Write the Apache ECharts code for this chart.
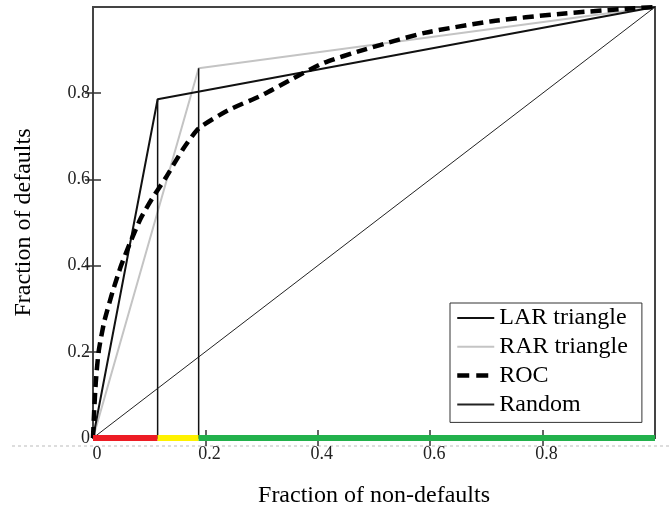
<!DOCTYPE html>
<html>
<head>
<meta charset="utf-8">
<title>LAR / RAR / ROC</title>
<script src="https://cdn.jsdelivr.net/npm/echarts@6/dist/echarts.min.js"></script>
<style>
  html, body { margin: 0; padding: 0; background: #fff; }
  #chart { width: 670px; height: 513px; }
</style>
</head>
<body>
<div id="chart"></div>
<script>
// points
const larTriangle = [[0, 0], [0.115, 0.786], [1, 1]]
const rarTriangle = [[0, 0], [0.188, 0.858], [1, 1]]
const rocCurve = [
    [0, 0], [0.002, 0.06], [0.005, 0.13], [0.01, 0.2], [0.02, 0.27], [0.035, 0.34],
    [0.05, 0.4], [0.065, 0.45], [0.085, 0.51], [0.105, 0.555], [0.13, 0.605],
    [0.16, 0.67], [0.188, 0.718], [0.24, 0.76], [0.3, 0.795], [0.35, 0.83],
    [0.41, 0.87], [0.48, 0.9], [0.59, 0.94], [0.71, 0.967], [0.83, 0.984],
    [0.95, 0.996], [1, 1]
]
const randomLine = [[0, 0], [1, 1]]
const cutoffs = [0.115, 0.188]
const cutoffTops = [0.786, 0.858]
const zoneBounds = [0, 0.115, 0.188, 1]
const tickValues = [0, 0.2, 0.4, 0.6, 0.8]
const innerTicks = [0.2, 0.4, 0.6, 0.8]

const zoneColors = ['#ed1c24', '#fff200', '#22b14c']
const FONT = "'Liberation Serif', 'Times New Roman', serif"

const chart = echarts.init(document.getElementById('chart'))

const tickStyle = { show: true, inside: true, length: 8, customValues: innerTicks, lineStyle: { color: '#333', width: 1.5 } }
const fmt = v => (tickValues.indexOf(Math.round(v * 10) / 10) >= 0 ? String(Math.round(v * 10) / 10) : '')

const series = [
    { name: 'Random', type: 'line', data: randomLine, symbol: 'none', z: 3,
      lineStyle: { color: '#222', width: 1 }, itemStyle: { color: '#222' } },
    { name: 'RAR triangle', type: 'line', data: rarTriangle, symbol: 'none', z: 3,
      lineStyle: { color: '#c4c4c4', width: 2 }, itemStyle: { color: '#c4c4c4' } },
    { name: 'LAR triangle', type: 'line', data: larTriangle, symbol: 'none', z: 4,
      lineStyle: { color: '#111', width: 2 }, itemStyle: { color: '#111' } },
    { name: 'ROC', type: 'line', data: rocCurve, symbol: 'none', smooth: 0.2, z: 5,
      lineStyle: { color: '#000', width: 4.5, type: [11, 6] }, itemStyle: { color: '#000' } }
]

// vertical cut-off lines
cutoffs.forEach((x, i) => {
    series.push({
        name: 'cut' + i, type: 'line', symbol: 'none', z: 3,
        data: [[x, 0], [x, cutoffTops[i]]],
        lineStyle: { color: '#111', width: 1.5 }
    })
})

// coloured zones along the x axis
zoneColors.forEach((c, i) => {
    series.push({
        name: 'zone' + i, type: 'line', symbol: 'none', z: 6, clip: false,
        data: [[zoneBounds[i], 0], [zoneBounds[i + 1], 0]],
        lineStyle: { color: c, width: 6 }
    })
})

const option = {
    animation: false,
    backgroundColor: '#fff',
    textStyle: { fontFamily: FONT },
    grid: { left: 93, right: 15, top: 7, bottom: 73, show: true, borderColor: '#444', borderWidth: 2 },
    legend: {
        data: [
            'LAR triangle',
            'RAR triangle',
            { name: 'ROC', lineStyle: { width: 4.5, type: [12, 7] } },
            'Random'
        ],
        orient: 'vertical',
        left: 450, top: 303,
        padding: [3, 14, 6, 5],
        itemWidth: 37, itemHeight: 14, itemGap: 4.8,
        itemStyle: { opacity: 0 },
        backgroundColor: '#fff', borderColor: '#333', borderWidth: 1,
        textStyle: { fontFamily: FONT, fontSize: 24, color: '#000', lineHeight: 24 }
    },
    xAxis: [
        {
            type: 'value', min: 0, max: 1, interval: 0.2, position: 'bottom',
            name: 'Fraction of non-defaults', nameLocation: 'middle', nameGap: 46,
            nameTextStyle: { fontFamily: FONT, fontSize: 24, color: '#000' },
            axisLine: { show: false },
            axisTick: tickStyle,
            splitLine: { show: false },
            axisLabel: { fontFamily: FONT, fontSize: 18, color: '#222', margin: 7, padding: [0, 0, 0, 8], formatter: fmt }
        },
        {
            type: 'value', min: 0, max: 1, interval: 0.2, position: 'top',
            axisLine: { show: false }, axisTick: tickStyle,
            axisLabel: { show: false }, splitLine: { show: false }
        }
    ],
    yAxis: [
        {
            type: 'value', min: 0, max: 1, interval: 0.2, position: 'left',
            name: 'Fraction of defaults', nameLocation: 'middle', nameGap: 57,
            nameTextStyle: { fontFamily: FONT, fontSize: 24, color: '#000' },
            axisLine: { show: false },
            axisTick: tickStyle,
            splitLine: { show: false },
            axisLabel: { fontFamily: FONT, fontSize: 18, color: '#222', margin: 3, formatter: fmt }
        },
        {
            type: 'value', min: 0, max: 1, interval: 0.2, position: 'right',
            axisLine: { show: false }, axisTick: tickStyle,
            axisLabel: { show: false }, splitLine: { show: false }
        }
    ],
    graphic: [{
        type: 'line', silent: true, z: -1,
        shape: { x1: 12, y1: 446, x2: 670, y2: 446 },
        style: { stroke: '#bbb', lineWidth: 1, lineDash: [3, 3] }
    }],
    series: series
}

chart.setOption(option)
</script>
</body>
</html>
